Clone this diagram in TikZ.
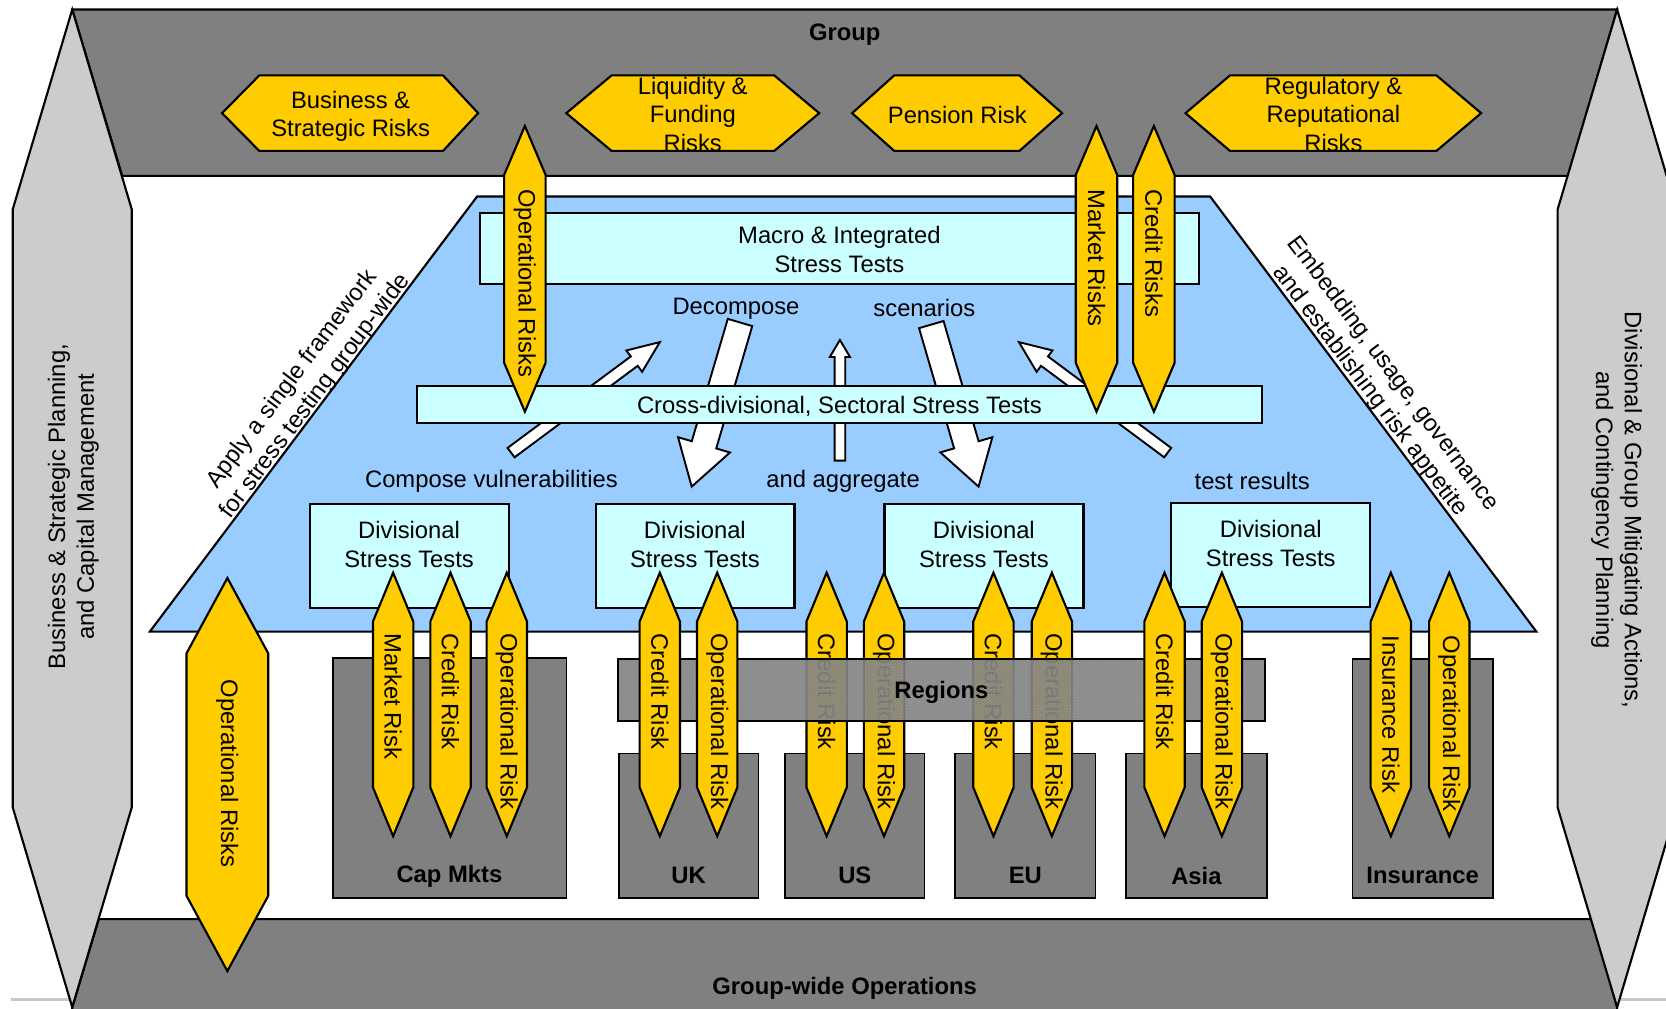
\documentclass[tikz,border=0pt]{standalone}
\usepackage{fontspec}
\setmainfont{Liberation Sans}
\usetikzlibrary{calc,patterns}

\definecolor{band}{HTML}{808080}
\definecolor{side}{HTML}{CCCCCC}
\definecolor{footer}{HTML}{C8C8C8}
\definecolor{riskyellow}{HTML}{FFCC00}
\definecolor{pyramid}{HTML}{99CCFF}
\definecolor{testbox}{HTML}{CCFFFF}
\definecolor{grain}{HTML}{9C9C9C}

\tikzset{
  outline/.style={draw=black, line width=2pt, line join=miter},
  lbl/.style={inner sep=0pt, align=center, font=\fontsize{22.4}{27}\selectfont},
  boldlbl/.style={inner sep=0pt, align=center, font=\fontsize{22.4}{27}\selectfont\bfseries},
  risk/.style={outline, fill=riskyellow},
  tests/.style={outline, fill=testbox},
  unitbox/.style={draw=black, line width=1.5pt, fill=band},
  flow/.style={draw=black, line width=1.8pt, fill=white, line join=miter},
}

% vertical double-headed risk arrow: name, x, top, bottom, half width, head length, text start, text
\newcommand\riskarrow[8]{%
  \draw[risk] (#2,#3) -- (#2+#5,#3+#6) -- (#2+#5,#4-#6) -- (#2,#4)
    -- (#2-#5,#4-#6) -- (#2-#5,#3+#6) -- cycle;
  \node[lbl, rotate=-90, anchor=west] (#1) at (#2,#7) {#8};
}

% white block arrow between two named coordinates: from, to, shaft half width, head half width, head length, name
\newcommand\flowarrow[6]{%
  \coordinate (#6-base) at ($(#2)!#5!(#1)$);
  \draw[flow] ($(#1)!#3!90:(#2)$) -- ($(#6-base)!#3!90:(#2)$) -- ($(#6-base)!#4!90:(#2)$)
    -- (#2) -- ($(#6-base)!#4!-90:(#2)$) -- ($(#6-base)!#3!-90:(#2)$) -- ($(#1)!#3!-90:(#2)$) -- cycle;
}

% flat hexagon holding a group risk: name, four x positions, text x, text y, text
\newcommand\hexa[8]{%
  \draw[risk] (#2,106.5) -- (#3,71) -- (#4,71) -- (#5,106.5) -- (#4,142) -- (#3,142) -- cycle;
  \node[lbl] (#1) at (#6,#7) {#8};
}

\begin{document}
\begin{tikzpicture}[x=1pt, y=-1pt]
\useasboundingbox (0,0) rectangle (1568,949);
\clip (0,0) rectangle (1568,949);

% group band on top and operations band at the bottom
\draw[outline, fill=band] (68,9) -- (1522,9) -- (1476,165.5) -- (115,165.5) -- cycle;
\node[boldlbl] (group) at (795,32.5) {Group};
\draw[outline, fill=band] (93,865) -- (1499,865) -- (1522,948) -- (1522,960) -- (68,960) -- (68,948) -- cycle;
\node[boldlbl] (operations) at (795,930) {Group-wide Operations};

% footer rule
\draw[footer, line width=3pt] (10,941) -- (68,941);
\draw[footer, line width=3pt] (1522,941) -- (1568,941);

% side pillars
\draw[outline, fill=side] (68,9) -- (124,197) -- (124,760) -- (68,948) -- (12,760) -- (12,197) -- cycle;
\node[lbl, rotate=90] (planning) at (69,477) {Business \& Strategic Planning,\\and Capital Management};
\draw[outline, fill=side] (1522,9) -- (1578,197) -- (1578,760) -- (1522,948) -- (1466,760) -- (1466,197) -- cycle;
\node[lbl, rotate=-90] (mitigation) at (1521.5,480) {Divisional \& Group Mitigating Actions,\\and Contingency Planning};

% group-level risks
\hexa{business}{209}{244}{417}{450}{330}{109.5}{Business \&\\Strategic Risks}
\hexa{liquidity}{533}{575.6}{728.7}{771}{652}{107.5}{Liquidity \&\\Funding\\Risks}
\hexa{pension}{802}{841.6}{959.5}{999.6}{901}{108.5}{Pension Risk}
\hexa{regulatory}{1115.8}{1157.6}{1352}{1394}{1255}{107.5}{Regulatory \&\\Reputational\\Risks}

% stress testing pyramid
\draw[outline, fill=pyramid] (449,185) -- (1139,185) -- (1446,594.5) -- (141,594.5) -- cycle;
\node[lbl, rotate=53.06] (framework) at (286,365) {Apply a single framework\\for stress testing group-wide};
\node[lbl, rotate=-53.06] (embedding) at (1300,360) {Embedding, usage, governance\\and establishing risk appetite};

\draw[tests] (451.6,200.8) rectangle (1128.6,267);
\node[lbl] (macro) at (790,235) {Macro \& Integrated\\Stress Tests};

% decomposition and aggregation flows
\coordinate (up1-a) at (481,426);   \coordinate (up1-b) at (621,322);
\coordinate (dn1-a) at (696.5,303.5); \coordinate (dn1-b) at (651,458);
\coordinate (up2-a) at (790.5,433.6); \coordinate (up2-b) at (790.5,320);
\coordinate (dn2-a) at (876.5,305.5); \coordinate (dn2-b) at (921,458);
\coordinate (up3-a) at (1099,426);  \coordinate (up3-b) at (959,322);
\flowarrow{up1-a}{up1-b}{5.5pt}{12.5pt}{30pt}{up1}
\flowarrow{dn1-a}{dn1-b}{12pt}{25.5pt}{41pt}{dn1}
\flowarrow{up2-a}{up2-b}{5pt}{9.5pt}{16pt}{up2}
\flowarrow{dn2-a}{dn2-b}{12pt}{25.5pt}{41pt}{dn2}
\flowarrow{up3-a}{up3-b}{5.5pt}{12.5pt}{30pt}{up3}

\draw[tests] (392.6,363) rectangle (1188,398);
\node[lbl] (cross) at (790,382.5) {Cross-divisional, Sectoral Stress Tests};

\node[lbl] (decompose) at (692.7,290.5) {Decompose};
\node[lbl] (scenarios) at (870,290) {scenarios};
\node[lbl] (compose) at (462.5,453.5) {Compose vulnerabilities};
\node[lbl] (aggregate) at (793.5,453.5) {and aggregate};
\node[lbl] (results) at (1178.5,453) {test results};

% group-wide risks crossing the pyramid
\riskarrow{opgroup}{494}{118.6}{387.5}{19.5}{46}{178}{Operational Risks}
\riskarrow{mktgroup}{1032}{118.6}{387.5}{19.5}{46}{178}{Market Risks}
\riskarrow{crgroup}{1086}{118.6}{387.5}{19.5}{46}{178}{Credit Risks}

% divisional stress tests
\draw[tests] (291.8,474.5) rectangle (479,572);
\node[lbl] (div1) at (385,512.5) {Divisional\\Stress Tests};
\draw[tests] (561,474.5) rectangle (747.8,572);
\node[lbl] (div2) at (654,512.5) {Divisional\\Stress Tests};
\draw[tests] (832.4,474.5) rectangle (1019.7,572);
\node[lbl] (div3) at (926,512.5) {Divisional\\Stress Tests};
\draw[tests] (1102,473) rectangle (1289.5,571);
\node[lbl] (div4) at (1196,511.5) {Divisional\\Stress Tests};

% business units
\draw[unitbox] (313.6,619.5) rectangle (533,845);
\node[boldlbl] (capmkts) at (423,824.5) {Cap Mkts};
\draw[unitbox] (582.6,709) rectangle (714,845);
\node[boldlbl] (uk) at (648,824) {UK};
\draw[unitbox] (739,709) rectangle (870,845);
\node[boldlbl] (us) at (804.5,824) {US};
\draw[unitbox] (899,709) rectangle (1031,845);
\node[boldlbl] (eu) at (965,824) {EU};
\draw[unitbox] (1059.8,709) rectangle (1192.3,845);
\node[boldlbl] (asia) at (1126,824) {Asia};
\draw[unitbox] (1273,620) rectangle (1405,845);
\node[boldlbl] (insurance) at (1339,824) {Insurance};

% risks behind the regions bar
\riskarrow{uscr}{778}{539}{787}{19}{46}{596}{Credit Risk}
\riskarrow{usop}{832}{539}{787}{19}{46}{596}{Operational Risk}
\riskarrow{eucr}{935}{539}{787}{19}{46}{596}{Credit Risk}
\riskarrow{euop}{990}{539}{787}{19}{46}{596}{Operational Risk}

% regions bar
\fill[band, opacity=0.9] (581.4,620) rectangle (1190.6,678.6);
\fill[pattern=crosshatch dots, pattern color=grain] (581.4,620) rectangle (1190.6,678.6);
\draw[line width=1.5pt] (581.4,620) rectangle (1190.6,678.6);
\node[boldlbl] (regions) at (886,652) {Regions};

% risks in front
\riskarrow{cmmkt}{370}{539}{787}{19}{46}{596}{Market Risk}
\riskarrow{cmcr}{424}{539}{787}{19}{46}{596}{Credit Risk}
\riskarrow{cmop}{477}{539}{787}{19}{46}{596}{Operational Risk}
\riskarrow{ukcr}{621}{539}{787}{19}{46}{596}{Credit Risk}
\riskarrow{ukop}{675}{539}{787}{19}{46}{596}{Operational Risk}
\riskarrow{asiacr}{1096}{539}{787}{19}{46}{596}{Credit Risk}
\riskarrow{asiaop}{1150}{539}{787}{19}{46}{596}{Operational Risk}
\riskarrow{insrisk}{1309}{539}{787}{19}{46}{598}{Insurance Risk}
\riskarrow{insop}{1364}{539}{787}{19}{46}{598}{Operational Risk}

% group-wide operational risks
\draw[risk] (214,544) -- (252.5,615) -- (252.5,843) -- (214,914) -- (175.5,843) -- (175.5,615) -- cycle;
\node[lbl, rotate=-90] (opwide) at (214,728) {Operational Risks};
\end{tikzpicture}
\end{document}
